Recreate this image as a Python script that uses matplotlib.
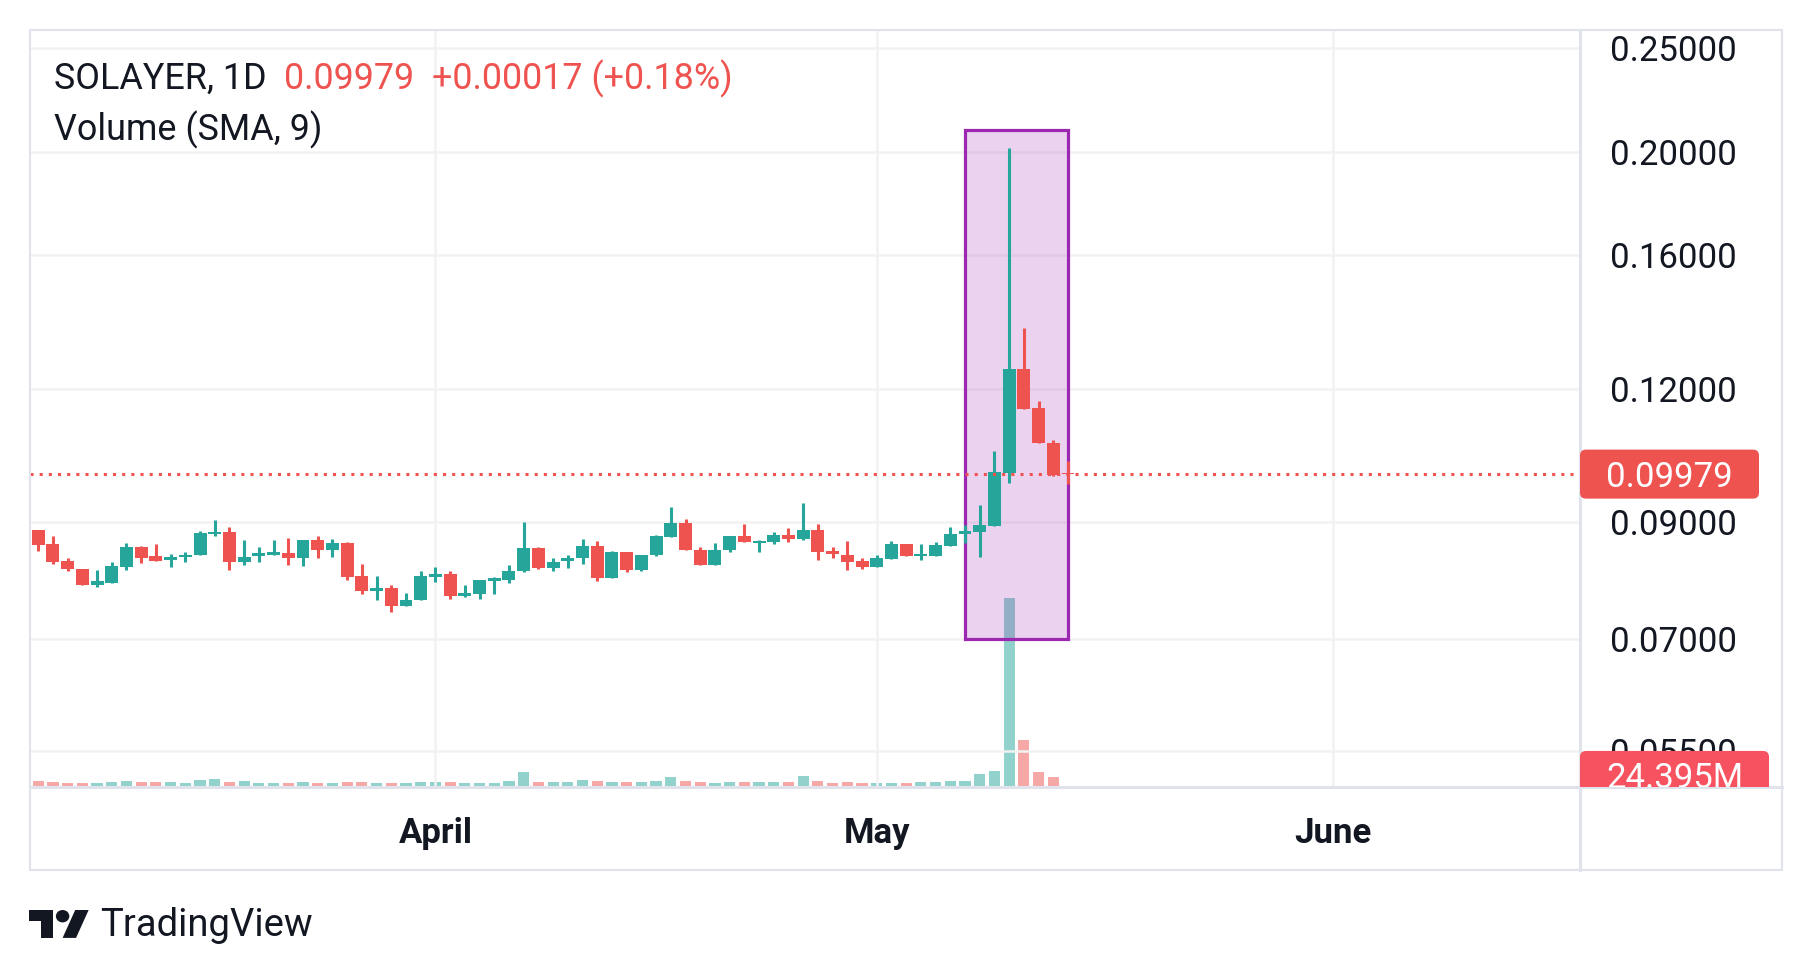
import numpy as np
import pandas as pd
import matplotlib
matplotlib.use('Agg')
import matplotlib.pyplot as plt
import matplotlib.dates as mdates
from matplotlib.patches import Rectangle, FancyBboxPatch, Ellipse, Polygon
from matplotlib.ticker import FixedLocator, FuncFormatter, NullLocator
from matplotlib.transforms import Bbox

plt.rcParams['font.family'] = ['Roboto', 'DejaVu Sans']

# ---- data ----
dates = pd.date_range('2025-03-05', periods=71, freq='D')

opens = [0.0885, 0.0858, 0.0827, 0.0814, 0.0785, 0.0790, 0.0816, 0.0852, 0.0836, 0.0829,
         0.0834, 0.0838, 0.0877, 0.0880, 0.0826, 0.0836, 0.0838, 0.0842, 0.0832, 0.0866,
         0.0848, 0.0860, 0.0801, 0.0776, 0.0780, 0.0751, 0.0760, 0.0800, 0.0805, 0.0768,
         0.0771, 0.0793, 0.0795, 0.0809, 0.0851, 0.0815, 0.0827, 0.0833, 0.0855, 0.0797,
         0.0843, 0.0812, 0.0839, 0.0872, 0.0899, 0.0848, 0.0820, 0.0847, 0.0874, 0.0861,
         0.0862, 0.0875, 0.0868, 0.0884, 0.0845, 0.0839, 0.0827, 0.0816, 0.0831, 0.0859,
         0.0836, 0.0837, 0.0854, 0.0878, 0.0881, 0.0893, 0.1000, 0.1251, 0.1150, 0.1068,
         0.1000]
highs = [0.0885, 0.0873, 0.0832, 0.0814, 0.0811, 0.0825, 0.0861, 0.0854, 0.0858, 0.0840,
         0.0843, 0.0883, 0.0904, 0.0890, 0.0866, 0.0853, 0.0866, 0.0869, 0.0866, 0.0873,
         0.0867, 0.0862, 0.0822, 0.0801, 0.0785, 0.0773, 0.0810, 0.0817, 0.0810, 0.0785,
         0.0795, 0.0799, 0.0820, 0.0900, 0.0853, 0.0832, 0.0838, 0.0868, 0.0863, 0.0845,
         0.0843, 0.0839, 0.0875, 0.0929, 0.0905, 0.0853, 0.0860, 0.0874, 0.0896, 0.0866,
         0.0881, 0.0888, 0.0938, 0.0896, 0.0853, 0.0863, 0.0832, 0.0838, 0.0864, 0.0859,
         0.0859, 0.0862, 0.0890, 0.0894, 0.0934, 0.1048, 0.2015, 0.1367, 0.1168, 0.1075,
         0.1026]
lows = [0.0846, 0.0822, 0.0810, 0.0785, 0.0783, 0.0790, 0.0812, 0.0824, 0.0828, 0.0817,
        0.0826, 0.0838, 0.0873, 0.0811, 0.0821, 0.0826, 0.0838, 0.0821, 0.0819, 0.0832,
        0.0834, 0.0795, 0.0771, 0.0760, 0.0742, 0.0751, 0.0760, 0.0791, 0.0762, 0.0765,
        0.0762, 0.0771, 0.0789, 0.0808, 0.0813, 0.0809, 0.0815, 0.0822, 0.0792, 0.0797,
        0.0808, 0.0810, 0.0837, 0.0872, 0.0847, 0.0820, 0.0820, 0.0844, 0.0862, 0.0844,
        0.0859, 0.0862, 0.0865, 0.0830, 0.0833, 0.0811, 0.0814, 0.0816, 0.0831, 0.0836,
        0.0829, 0.0837, 0.0854, 0.0860, 0.0834, 0.0893, 0.0978, 0.1149, 0.1068, 0.0994,
        0.0977]
closes = [0.0857, 0.0826, 0.0813, 0.0785, 0.0793, 0.0818, 0.0852, 0.0833, 0.0828, 0.0834,
          0.0839, 0.0879, 0.0881, 0.0826, 0.0834, 0.0842, 0.0844, 0.0832, 0.0866, 0.0848,
          0.0860, 0.0800, 0.0776, 0.0780, 0.0751, 0.0760, 0.0801, 0.0805, 0.0768, 0.0772,
          0.0795, 0.0797, 0.0810, 0.0851, 0.0815, 0.0825, 0.0832, 0.0855, 0.0797, 0.0843,
          0.0812, 0.0839, 0.0873, 0.0899, 0.0847, 0.0820, 0.0848, 0.0874, 0.0862, 0.0864,
          0.0875, 0.0868, 0.0884, 0.0844, 0.0840, 0.0825, 0.0816, 0.0832, 0.0859, 0.0837,
          0.0840, 0.0856, 0.0878, 0.0882, 0.0894, 0.1002, 0.1251, 0.1149, 0.1068, 0.09962,
          0.09979]
# volume in millions
volumes = [14.6, 12.3, 10.1, 9.8, 10.0, 12.0, 14.8, 12.2, 12.4, 12.1,
           9.9, 17.2, 19.8, 12.0, 14.5, 9.7, 10.2, 9.9, 12.3, 10.0,
           9.8, 12.1, 12.5, 9.6, 10.3, 9.9, 12.2, 12.0, 12.4, 9.8,
           10.1, 9.7, 14.6, 36.4, 12.3, 12.1, 12.6, 17.1, 14.4, 12.2,
           12.0, 12.3, 14.7, 24.6, 14.5, 12.1, 9.9, 12.4, 12.2, 12.0,
           12.5, 12.1, 26.9, 14.6, 10.0, 12.2, 9.8, 10.1, 9.9, 10.2,
           12.1, 12.4, 14.8, 15.6, 31.2, 38.6, 459.0, 114.7, 36.6, 24.395, 0.0]

symbol_text = 'SOLAYER, 1D'
change_text = '+0.00017 (+0.18%)'
volume_title = 'Volume (SMA, 9)'
price_ticks = [0.055, 0.07, 0.09, 0.12, 0.16, 0.20, 0.25]
month_ticks = ['2025-04-01', '2025-05-01', '2025-06-01']
month_labels = ['April', 'May', 'June']
# highlight box drawn on the chart
box_start, box_end = '2025-05-07', '2025-05-14'
box_low, box_high = 0.0699, 0.2097

UP, DOWN = '#26a69a', '#ef5350'
TXT = '#131722'
GRID = '#f2f2f2'
FRAME = '#e0e3eb'
W, H = 1812, 975

o = np.array(opens); h = np.array(highs); l = np.array(lows); c = np.array(closes)
v = np.array(volumes)
cols = np.where(c >= o, UP, DOWN)

fig = plt.figure(figsize=(W / 100, H / 100), dpi=100)
L, R, T, B = 30, 1579.5, 30, 787
pos = [L / W, 1 - B / H, (R - L) / W, (B - T) / H]

# volume pane (underneath)
ax_v = fig.add_axes(pos)
ax_v.bar(dates[v > 0], v[v > 0], width=0.76, color=cols[v > 0], alpha=0.5, linewidth=0)
ax_v.set_ylim(0, v.max() / 0.25)
ax_v.axis('off')

# price pane
ax = fig.add_axes(pos, facecolor='none')
ax.set_yscale('log')
ax.add_patch(Rectangle((mdates.date2num(pd.Timestamp(box_start)), box_low),
                       (pd.Timestamp(box_end) - pd.Timestamp(box_start)).days,
                       box_high - box_low, facecolor=(0.612, 0.153, 0.69, 0.2),
                       edgecolor='#9c27b0', linewidth=2.3, zorder=2))
ax.vlines(dates, l, h, colors=cols, linewidth=2.2, zorder=3)
ax.bar(dates, np.abs(c - o), bottom=np.minimum(o, c), width=0.88, color=cols,
       linewidth=0, zorder=4)
ax.axhline(c[-1], color=DOWN, linewidth=2.2, linestyle=(0, (1, 2)), zorder=5)

x0 = dates[0]
ax.set_xlim(x0 - pd.Timedelta(hours=13.4), x0 + pd.Timedelta(days=104.77))
ax_v.set_xlim(ax.get_xlim())
ax.set_ylim(0.05084, 0.2599)

ax.yaxis.set_major_locator(FixedLocator(price_ticks))
ax.yaxis.set_minor_locator(NullLocator())
ax.yaxis.set_major_formatter(FuncFormatter(lambda val, p: f'{val:.5f}'))
ax.yaxis.tick_right()
ax.tick_params(axis='y', length=0, pad=21.6, labelsize=25, labelcolor=TXT)

ax.xaxis.set_major_locator(FixedLocator(mdates.date2num(pd.to_datetime(month_ticks))))
ax.set_xticklabels(month_labels, fontweight='bold')
ax.tick_params(axis='x', length=0, pad=21.5, labelsize=25, labelcolor=TXT)
ax.grid(True, color=GRID, linewidth=1.8)
ax.set_axisbelow(True)
for s in ax.spines.values():
    s.set_visible(False)

# overlay in pixel coords for frame, labels, logo
ov = fig.add_axes([0, 0, 1, 1], facecolor='none')
ov.set_xlim(0, W)
ov.set_ylim(H, 0)
ov.axis('off')
ov.add_patch(Rectangle((30, 30), 1752, 839.5, fill=False, edgecolor=FRAME, linewidth=1.5))
ov.plot([R, R], [30, 869.5], color=FRAME, linewidth=2.2)
ov.plot([30, 1782], [B, B], color=FRAME, linewidth=2.2)


def ypix(axis, val):
    return H - axis.transData.transform((0, val))[1]


yc = ypix(ax, c[-1])
ov.add_patch(FancyBboxPatch((R + 0.5, yc - 24.5), 179, 49,
                            boxstyle='round,pad=0,rounding_size=6',
                            facecolor=DOWN, edgecolor='none', zorder=5))
ov.text(R + 90, yc, f'{c[-1]:.5f}', color='white', fontsize=25,
        ha='center', va='center_baseline', zorder=6)

last_v = v[v > 0][-1]
yv = ypix(ax_v, last_v)
clip = Bbox.from_extents(R, H - B, W, H)
vb = FancyBboxPatch((R + 0.5, yv - 26), 189, 49, boxstyle='round,pad=0,rounding_size=6',
                    facecolor='#f7525f', edgecolor='none', zorder=5)
ov.add_patch(vb)
vb.set_clip_box(clip)
vt = ov.text(R + 95, yv - 1.5, f'{last_v:.3f}M', color='white', fontsize=25,
             ha='center', va='center_baseline', zorder=6, clip_on=True)
vt.set_clip_box(clip)

# legend texts
ov.text(54, 79, symbol_text, fontsize=25.8, color=TXT, va='center')
ov.text(284, 79, f'{c[-1]:.5f}', fontsize=25.8, color=DOWN, va='center')
ov.text(432, 79, change_text, fontsize=25.8, color=DOWN, va='center')
ov.text(54, 130, volume_title, fontsize=25.8, color=TXT, va='center')

# TradingView logo
def lp(u, w):
    return (29 + u * 1.68, 910 + (w - 4) * 1.55)


ov.add_patch(Polygon([lp(0, 4), lp(14, 4), lp(14, 22), lp(7, 22), lp(7, 11), lp(0, 11)],
                     closed=True, color=TXT, linewidth=0))
ov.add_patch(Ellipse(lp(20, 8), 8 * 1.68, 8 * 1.55, color=TXT, linewidth=0))
ov.add_patch(Polygon([lp(20, 22), lp(27.5, 4), lp(35.5, 4), lp(28, 22)],
                     closed=True, color=TXT, linewidth=0))
ov.text(100, 926, 'TradingView', fontsize=27.5, color=TXT, va='center')

fig.savefig('out.png', dpi=100, facecolor='white')
